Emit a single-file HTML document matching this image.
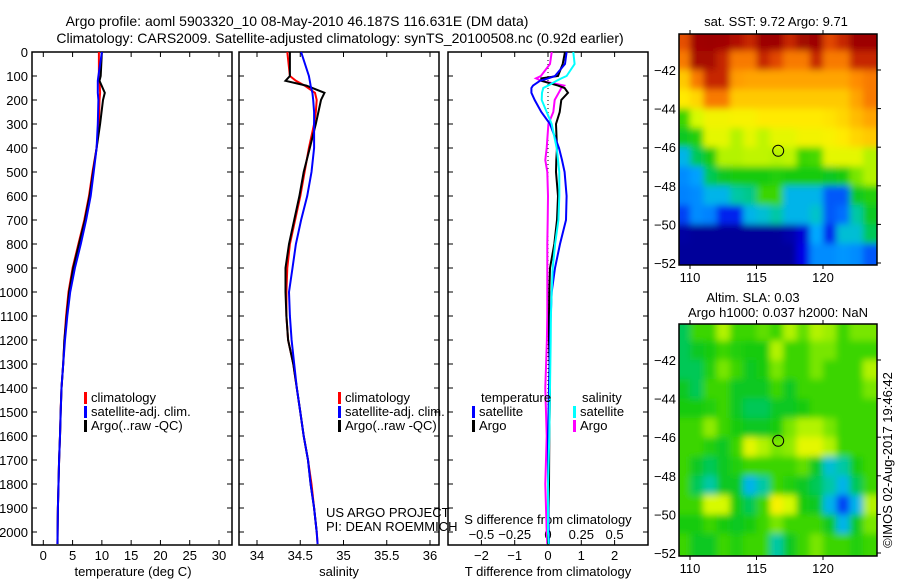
<!DOCTYPE html>
<html><head><meta charset="utf-8"><style>
body{margin:0;background:#fff;}
svg{display:block;font-family:"Liberation Sans",sans-serif;}
text{font-size:13px;fill:#000;}
</style></head><body>
<svg id="fig" width="900" height="580" viewBox="0 0 900 580" xmlns="http://www.w3.org/2000/svg">
<defs><filter id="soft" x="-5%" y="-5%" width="110%" height="110%"><feGaussianBlur stdDeviation="3.5"/></filter></defs>
<text x="297" y="26" text-anchor="middle" style="font-size:14px">Argo profile: aoml 5903320_10 08-May-2010 46.187S 116.631E (DM data)</text>
<text x="340" y="43" text-anchor="middle" style="font-size:14px">Climatology: CARS2009. Satellite-adjusted climatology: synTS_20100508.nc (0.92d earlier)</text>
<text x="776" y="26" text-anchor="middle">sat. SST: 9.72 Argo: 9.71</text>
<text x="753" y="302" text-anchor="middle">Altim. SLA: 0.03</text>
<text x="778" y="317" text-anchor="middle">Argo h1000: 0.037 h2000: NaN</text>
<text transform="translate(892,460) rotate(-90)" text-anchor="middle">©IMOS 02-Aug-2017 19:46:42</text>
<g id="g"></g>
</svg>
<script>
// ---- profile data ----
const tDepth = [0,100,120,170,200,300,400,500,600,700,800,900,1000,1100,1200,1300,1400,1500,1600,1700,1800,1900,2000,2050];
const tClim  = [9.5,9.5,9.6,9.7,9.6,9.5,9.1,8.4,7.8,7.0,6.0,5.0,4.3,3.9,3.6,3.4,3.1,2.95,2.85,2.7,2.6,2.5,2.45,2.4];
const tSat   = [10.0,9.4,9.3,9.3,9.4,9.3,9.1,8.6,8.1,7.3,6.4,5.4,4.6,4.1,3.7,3.4,3.1,2.97,2.85,2.7,2.6,2.5,2.45,2.4];
const tArgo  = [10.0,9.8,9.6,10.5,10.2,9.7,9.1,8.5,7.9,7.1,6.1,5.1,4.4,4.0,3.6,3.4,3.1,2.97,2.85,2.7,2.6,2.5,2.45,2.45];
const sDepth = [0,100,120,140,170,200,250,300,400,500,600,700,800,900,1000,1100,1200,1300,1400,1500,1600,1700,1800,1900,2000,2050];
const sClim  = [34.35,34.38,34.45,34.55,34.67,34.69,34.68,34.66,34.6,34.55,34.5,34.44,34.38,34.35,34.34,34.34,34.36,34.42,34.46,34.5,34.54,34.59,34.63,34.66,34.69,34.7];
const sSat   = [34.51,34.6,34.61,34.62,34.64,34.65,34.66,34.66,34.66,34.63,34.58,34.51,34.45,34.41,34.37,34.38,34.4,34.43,34.46,34.5,34.54,34.59,34.62,34.66,34.69,34.7];
const sArgo  = [34.38,34.38,34.33,34.57,34.78,34.74,34.71,34.68,34.61,34.54,34.49,34.43,34.37,34.33,34.33,34.34,34.36,34.42,34.46,34.5,34.54,34.59,34.62,34.66,34.69];
const dDepth = [0,50,100,110,120,140,150,170,200,250,300,400,450,500,600,700,800,900,1000,1100,1200,1400,1600,1800,2000,2050];
const dTsat  = [0.56,0.51,0.21,0.0,-0.24,-0.45,-0.5,-0.5,-0.4,-0.2,0.06,0.33,0.42,0.5,0.56,0.54,0.36,0.21,0.11,0.08,0.06,0.03,0.0,0.0,0.02,0.03];
const dTargo = [0.51,0.44,0.3,-0.2,-0.2,0.3,0.5,0.6,0.4,0.35,0.24,0.27,0.25,0.24,0.3,0.27,0.19,0.06,0.04,0.03,0.03,0.06,0.04,0.03,0.0,0.0];
const dSsat  = [0.19,0.2,0.14,0.1,0.065,0.0,-0.035,-0.045,-0.047,-0.01,0.028,0.065,0.075,0.085,0.085,0.078,0.053,0.035,0.028,0.022,0.02,0.015,0.01,0.0,0.0,0.005];
const dSargo = [0.028,0.015,-0.053,-0.09,-0.05,0.12,0.1,0.08,0.05,0.04,0.003,-0.01,-0.02,-0.005,0.0,-0.002,-0.005,-0.005,-0.005,-0.005,-0.008,-0.02,-0.01,-0.02,-0.01,-0.005];
const depthTicks = [0,100,200,300,400,500,600,700,800,900,1000,1100,1200,1300,1400,1500,1600,1700,1800,1900,2000];
const tTicks = [0,5,10,15,20,25,30];
const sTicks = [34,34.5,35,35.5,36];
const sTickLabels = ["34","34.5","35","35.5","36"];
const dTTicks = [-2,-1,0,1,2];
const dSTickVals = [-0.5,-0.25,0,0.25,0.5];
const dSTickLabels = ["\u22120.5","\u22120.25","0","0.25","0.5"];
// ---- map data (1 deg cells, lon 109..124, lat -40..-52) ----
const lonEdges = [109,110,111,112,113,114,115,116,117,118,119,120,121,122,123,124];
const latEdges = [-40,-41,-42,-43,-44,-45,-46,-47,-48,-49,-50,-51,-52];
const sstGrid = [
[8.5,9.7,9.8,9.7,9.3,9.0,9.8,9.8,9.0,9.6,9.8,8.6,9.0,9.8,9.8],
[8.0,9.5,9.5,9.0,8.0,8.0,9.0,8.6,8.0,8.0,9.0,8.0,8.0,9.0,9.0],
[7.0,8.0,9.0,9.0,7.6,7.5,7.5,7.5,7.5,7.5,7.5,7.5,7.5,7.8,8.0],
[6.5,6.8,8.0,8.0,7.0,7.0,7.0,7.0,7.0,7.0,7.0,7.0,7.0,7.5,8.0],
[4.5,5.8,6.2,6.2,6.3,6.3,6.5,6.5,6.5,6.5,6.5,6.6,6.8,7.2,7.5],
[4.0,4.3,6.0,6.0,5.5,6.0,5.6,6.0,6.0,6.2,6.2,6.3,6.5,6.8,7.0],
[3.0,3.8,4.2,5.5,5.5,5.6,5.6,5.5,5.6,4.5,4.6,6.0,6.0,6.0,5.5],
[2.5,2.7,3.8,4.0,4.2,4.2,4.2,4.3,4.2,4.2,4.2,4.0,4.2,5.0,5.5],
[2.4,2.5,3.0,3.0,3.5,3.6,4.5,4.5,3.0,3.0,3.0,2.0,2.0,4.0,4.3],
[1.8,2.5,2.4,1.5,1.5,3.0,3.2,3.5,3.0,3.0,3.3,2.0,2.2,3.5,4.0],
[0.4,0.3,0.3,0.3,0.3,0.3,0.3,0.3,0.5,1.0,2.8,1.5,3.2,3.2,3.8],
[0.3,0.3,0.3,0.3,0.3,0.3,0.3,0.3,0.3,1.2,2.5,2.5,2.6,2.5,2.0]];
const slaGrid = [
[3.8,4.5,4.5,5.5,4.5,4.5,4.8,4.5,5.5,4.8,5.5,5.3,4.5,5.0,5.0],
[3.8,4.0,4.2,4.5,4.3,4.2,4.2,5.5,4.5,4.5,5.0,5.0,4.5,4.5,4.5],
[3.8,3.8,4.3,5.0,4.5,4.0,4.2,5.0,4.5,4.5,5.0,4.5,4.5,4.5,5.5],
[4.0,3.8,4.5,4.5,4.0,4.0,4.0,4.5,4.0,4.5,4.5,4.5,4.5,4.5,5.0],
[4.2,4.2,4.3,4.5,4.0,3.8,3.8,4.0,4.0,4.2,4.5,4.5,4.5,4.5,4.5],
[4.5,4.5,5.2,4.5,4.2,4.0,4.0,4.2,5.0,5.5,5.5,5.0,4.5,4.5,4.5],
[4.5,4.5,4.3,4.0,4.5,6.0,5.5,5.0,5.2,6.0,6.0,5.5,4.5,4.5,4.5],
[4.5,4.0,3.8,4.0,4.3,4.5,4.5,4.5,4.5,4.8,4.0,3.2,3.5,4.2,4.5],
[4.5,3.8,3.5,4.0,4.0,3.0,3.5,4.5,4.3,4.0,3.8,3.5,3.0,3.8,4.5],
[4.5,4.5,5.8,5.8,4.2,3.8,4.5,6.3,5.8,4.2,4.0,3.0,1.8,3.0,5.5],
[4.2,4.2,4.5,4.2,4.0,4.2,4.5,5.0,4.5,4.5,4.5,4.0,3.0,4.0,5.0],
[4.5,4.0,4.0,4.5,4.3,4.5,4.5,3.5,4.0,4.5,5.0,4.5,4.5,4.3,4.5]];
const argoLon = 116.631, argoLat = -46.187;
const latTicks = [-42,-44,-46,-48,-50,-52];
const lonTicks = [110,115,120];

const NS = "http://www.w3.org/2000/svg";
const root = document.getElementById('g');
function mk(tag, attrs, parent){const e=document.createElementNS(NS,tag);for(const k in attrs)e.setAttribute(k,attrs[k]);(parent||root).appendChild(e);return e;}
function txt(s,x,y,anchor,name,size){const t=mk('text',{x:x,y:y,'text-anchor':anchor||'start'});t.textContent=s;


if(size)t.style.fontSize=size+'px';return t;}

const TOP=52, BOT=545;
const yD = d => TOP + d*0.24;
function lin(v0,p0,v1,p1){return v=>p0+(v-v0)*(p1-p0)/(v1-v0);}
const xT = lin(0,43.3,30,219);
const xS = lin(34,257,36,430);
const xDT = lin(0,548,1,581.3);
const xDS = v => xDT(v*4);

function panel(name,x0,x1){
  const r=mk('rect',{x:x0,y:TOP,width:x1-x0,height:BOT-TOP,fill:'none',stroke:'#000','stroke-width':1.5});
  
  
  depthTicks.forEach(d=>{const y=yD(d);
    const l=mk('path',{d:`M${x0},${y}h5M${x1},${y}h-5`,stroke:'#000','stroke-width':1});
    
    
  });
}
function xticks(vals,fx,labels,yLab,name){
  vals.forEach((v,i)=>{const x=fx(v);
    const l=mk('path',{d:`M${x},${TOP}v5M${x},${BOT}v-5`,stroke:'#000','stroke-width':1});
    
    
    if(labels) txt(labels[i],x,yLab,'middle',name);
  });
}
function line(xs,ds,fx,color,name,w){
  const pts=xs.map((v,i)=>fx(v).toFixed(1)+','+yD(ds[i]).toFixed(1)).join(' ');
  const p=mk('polyline',{points:pts,fill:'none',stroke:color,'stroke-width':w||2,'stroke-linejoin':'miter'});
  
  
}
depthTicks.forEach(d=>txt(String(d),28,yD(d)+5,'end','depth-label'));

panel('temperature-panel',32,232);
xticks(tTicks,xT,tTicks.map(String),560,'temperature-tick-label');
txt('temperature (deg C)',133,576,'middle','temperature-axis-title');
line(tClim,tDepth,xT,'#f00','temperature-climatology-line');
line(tArgo,tDepth,xT,'#000','temperature-argo-line');
line(tSat,tDepth,xT,'#00f','temperature-satellite-line');

panel('salinity-panel',239,439);
xticks(sTicks,xS,sTickLabels,560,'salinity-tick-label');
txt('salinity',339,576,'middle','salinity-axis-title');
line(sClim,sDepth,xS,'#f00','salinity-climatology-line');
line(sArgo,sDepth.slice(0,sArgo.length),xS,'#000','salinity-argo-line');
line(sSat,sDepth,xS,'#00f','salinity-satellite-line');

panel('difference-panel',448,648);
xticks(dTTicks,xDT,['\u22122','\u22121','0','1','2'],560,'t-diff-tick-label');
dSTickVals.forEach((v,i)=>txt(dSTickLabels[i],xDS(v),539,'middle','s-diff-tick-label'));
txt('S difference from climatology',548,524,'middle','s-diff-axis-title');
txt('T difference from climatology',548,576,'middle','t-diff-axis-title');
const zl=mk('line',{x1:xDT(0),y1:TOP,x2:xDT(0),y2:BOT,stroke:'#000','stroke-width':1,'stroke-dasharray':'1,3'});


line(dSargo,dDepth,xDS,'#f0f','s-diff-argo-line');
line(dTargo,dDepth,xDT,'#000','t-diff-argo-line');
line(dTsat,dDepth,xDT,'#00f','t-diff-satellite-line');
line(dSsat,dDepth,xDS,'#0ff','s-diff-satellite-line');

function legItem(x,y,color,label,name){
  const r=mk('rect',{x:x,y:y-10,width:3,height:12,fill:color});
  
  
  txt(label,x+7,y,'start',name);
}
[[84,'#f00','climatology'],[84,'#00f','satellite-adj. clim.'],[84,'#000','Argo(..raw -QC)']].forEach((a,i)=>legItem(a[0],402+i*14,a[1],a[2],'legend-entry'));
[[338,'#f00','climatology'],[338,'#00f','satellite-adj. clim.'],[338,'#000','Argo(..raw -QC)']].forEach((a,i)=>legItem(a[0],402+i*14,a[1],a[2],'legend-entry'));
txt('temperature',481,402,'start','legend-heading');
txt('salinity',582,402,'start','legend-heading');
legItem(472,416,'#00f','satellite','legend-entry');
legItem(472,430,'#000','Argo','legend-entry');
legItem(573,416,'#0ff','satellite','legend-entry');
legItem(573,430,'#f0f','Argo','legend-entry');
txt('US ARGO PROJECT',326,517,'start','project-label');
txt('PI: DEAN ROEMMICH',326,531,'start','pi-label');

// custom colour scale (matches figure palette)
const cmapStops = [[0,0,0,128],[1.2,0,0,230],[2.2,0,110,255],[2.8,0,170,255],[3.4,0,200,190],[4.1,10,200,10],[5.0,120,230,0],[5.8,215,250,0],[6.4,255,240,0],[7.1,255,195,0],[7.8,255,140,0],[8.6,225,70,0],[9.4,170,10,0],[10,150,0,0]];
function cmap(v){
  if(v<=cmapStops[0][0]) return `rgb(0,0,128)`;
  for(let i=1;i<cmapStops.length;i++){const a=cmapStops[i-1],b=cmapStops[i];
    if(v<=b[0]){const f=(v-a[0])/(b[0]-a[0]);
      return `rgb(${Math.round(a[1]+f*(b[1]-a[1]))},${Math.round(a[2]+f*(b[2]-a[2]))},${Math.round(a[3]+f*(b[3]-a[3]))})`;}}
  return 'rgb(150,0,0)';
}
function map(name,grid,top,bottom){
  const L=679,R=877;
  const xL=lin(110,690,120,823);
  const yL=lin(-42,top+36,-52,top+229);
  const cp=mk('clipPath',{id:'clip'+name});
  mk('rect',{x:L,y:top,width:R-L,height:bottom-top},cp);
  const outer=mk('g',{'clip-path':`url(#clip${name})`});
  
  
  const g=mk('g',{filter:'url(#soft)'},outer);
  grid.forEach((row,i)=>row.forEach((v,j)=>{
    let x=xL(lonEdges[j]),y=yL(latEdges[i]);
    let w=xL(lonEdges[j+1])-x+0.6, h=yL(latEdges[i+1])-y+0.6;
    if(j===0){w+=x-(L-8);x=L-8;}
    if(j===row.length-1){w+=8;}
    if(i===0){h+=y-(top-8);y=top-8;}
    if(i===grid.length-1){h+=8;}
    const c=mk('rect',{x:x.toFixed(1),y:y.toFixed(1),width:w.toFixed(1),height:h.toFixed(1),fill:cmap(v)},g);
    
    
  }));
  const fr=mk('rect',{x:L,y:top,width:R-L,height:bottom-top,fill:'none',stroke:'#000','stroke-width':1.5});
  
  
  latTicks.forEach(v=>{const y=yL(v);
    const t=mk('path',{d:`M${R},${y}h4`,stroke:'#000'});
    
    
    txt('\u2212'+(-v),L-3,y+5,'end','lat-label');});
  lonTicks.forEach(v=>{const x=xL(v);
    const t=mk('path',{d:`M${x},${top}v-4M${x},${bottom}v4`,stroke:'#000'});
    
    
    txt(String(v),x,bottom+17,'middle','lon-label');});
  const c=mk('circle',{cx:xL(argoLon),cy:yL(argoLat),r:5.5,fill:'none',stroke:'#000','stroke-width':1});
  
  
}
map('sst-map',sstGrid,34,265);
map('sla-map',slaGrid,324,556);
</script>
</body></html>
